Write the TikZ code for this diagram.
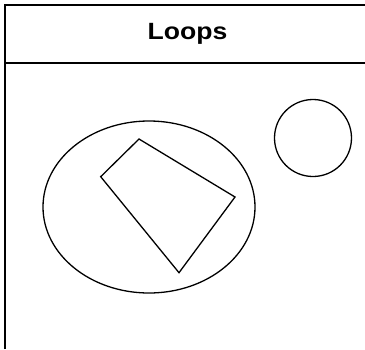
\documentclass[tikz,border=0pt]{standalone}
\usepackage{fontspec}
\setmainfont{Liberation Sans}
\usetikzlibrary{positioning}

\begin{document}
\begin{tikzpicture}[x=1pt,y=-1pt]
\tikzstyle{frame}=[draw,line width=2pt]
\tikzstyle{outline}=[draw,line width=1.3pt]
\tikzstyle{header}=[inner sep=0pt,anchor=base,font=\bfseries\fontsize{23.5}{24}\selectfont]
\useasboundingbox (0,0) rectangle (365,349);

% panel frame and title bar
\draw[frame] (5,349) -- (5,5) -- (365,5);
\draw[frame] (5,63) -- (365,63);
\node[header] (title) at (187.5,39.3) {\scalebox{1.13}[1]{Loops}};

% loops
\draw[outline] (149,207) ellipse [x radius=106,y radius=86];
\draw[outline] (313,138) circle [radius=38.5];
\coordinate (qa) at (139,139);
\coordinate (qb) at (100.7,176.7);
\coordinate (qc) at (179,272.7);
\coordinate (qd) at (235,197);
\draw[outline,line join=miter] (qa) -- (qb) -- (qc) -- (qd) -- cycle;
\end{tikzpicture}
\end{document}
